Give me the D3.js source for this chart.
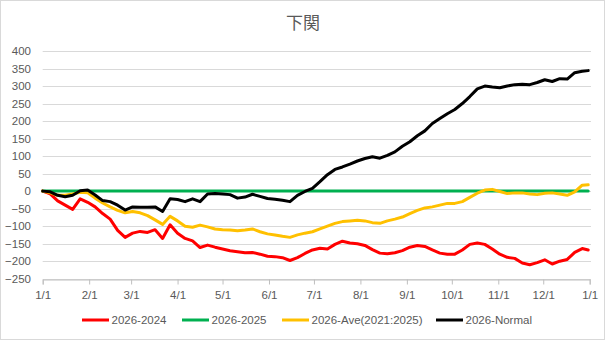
<!DOCTYPE html>
<html><head><meta charset="utf-8">
<script src="https://cdn.jsdelivr.net/npm/d3@7"></script>
<style>
html,body{margin:0;padding:0;background:#fff;}
svg{display:block;}
</style>
</head><body>
<svg id="c" width="606" height="341"></svg>
<script>
const title = "下関";
const days = [0,5,10,15,20,25,30,35,40,45,50,55,60,65,70,75,80,85,90,95,100,105,110,115,120,125,130,135,140,145,150,155,160,165,170,175,180,185,190,195,200,205,210,215,220,225,230,235,240,245,250,255,260,265,270,275,280,285,290,295,300,305,310,315,320,325,330,335,340,345,350,355,360,364];
const s2024 = [0,-8,-28,-40,-52,-22,-32,-45,-64,-80,-112,-132,-120,-115,-118,-110,-135,-96,-120,-135,-142,-161,-154,-160,-165,-170,-173,-176,-175,-180,-186,-187,-190,-198,-190,-178,-168,-163,-165,-152,-143,-148,-150,-155,-167,-177,-179,-176,-170,-160,-155,-158,-168,-177,-180,-180,-168,-152,-148,-152,-165,-180,-189,-192,-205,-210,-204,-196,-208,-200,-195,-175,-164,-168];
const s2025 = [0,0,0,0,0,0,0,0,0,0,0,0,0,0,0,0,0,0,0,0,0,0,0,0,0,0,0,0,0,0,0,0,0,0,0,0,0,0,0,0,0,0,0,0,0,0,0,0,0,0,0,0,0,0,0,0,0,0,0,0,0,0,0,0,0,0,0,0,0,0,0,0,0,0];
const sAve = [0,-5,-12,-12,-8,-3,-5,-20,-34,-45,-55,-62,-58,-62,-70,-82,-95,-72,-85,-100,-103,-97,-102,-108,-110,-111,-113,-111,-108,-116,-122,-125,-129,-132,-125,-120,-116,-108,-100,-92,-87,-85,-83,-85,-90,-92,-85,-80,-74,-64,-55,-48,-45,-40,-35,-35,-30,-18,-6,3,5,-1,-7,-5,-5,-8,-10,-6,-5,-8,-12,-2,17,18];
const sNormal = [0,-2,-12,-16,-12,1,3,-11,-27,-30,-40,-54,-45,-46,-46,-45,-58,-22,-24,-30,-22,-30,-8,-7,-8,-10,-20,-17,-9,-15,-21,-23,-26,-30,-12,-1,8,27,47,62,69,77,86,93,98,94,102,112,128,141,158,172,193,207,221,233,250,270,292,300,297,295,300,304,305,304,310,318,313,321,320,338,342,344];
const seriesNames = ["2026-2024","2026-2025","2026-Ave(2021:2025)","2026-Normal"];
const seriesColors = ["#FF0000","#00B050","#FFC000","#000000"];
const monthTickDays = [0,31,59,90,120,151,181,212,243,273,304,334,365];
const monthTickLabels = ["1/1","2/1","3/1","4/1","5/1","6/1","7/1","8/1","9/1","10/1","11/1","12/1","1/1"];
const yTicks = [-250,-200,-150,-100,-50,0,50,100,150,200,250,300,350,400];

const svg = d3.select("#c");
const font = "'Liberation Sans', Arial, sans-serif";
const txt = "#595959";

svg.append("rect").attr("x",0.5).attr("y",0.5).attr("width",604).attr("height",339)
  .attr("fill","#fff").attr("stroke","#D9D9D9");

const x = d3.scaleLinear().domain([0,365]).range([42.7,589.7]);
const y = d3.scaleLinear().domain([-250,400]).range([278.7,51]);

// gridlines
svg.append("g").selectAll("line").data(yTicks).join("line")
  .attr("x1",42.7).attr("x2",591).attr("y1",d=>Math.round(y(d))+0.5).attr("y2",d=>Math.round(y(d))+0.5)
  .attr("stroke","#D9D9D9").attr("stroke-width",1);

// y axis labels
const ya = svg.append("g").attr("transform","translate(31,0)")
  .call(d3.axisLeft(y).tickValues(yTicks).tickSize(0).tickPadding(0));
ya.select(".domain").remove();
ya.selectAll("text").attr("font-family",font).attr("font-size",11.5).attr("fill",txt);

// x axis
const xa = svg.append("g").attr("transform",`translate(0,${Math.round(y(-250))+0.5})`)
  .call(d3.axisBottom(x).tickValues(monthTickDays).tickFormat((d,i)=>monthTickLabels[i]).tickSize(5).tickPadding(6));
xa.select(".domain").attr("stroke","#BFBFBF");
xa.selectAll(".tick line").attr("stroke","#BFBFBF");
xa.selectAll("text").attr("font-family",font).attr("font-size",11.5).attr("fill",txt);

// lines
const allSeries = [s2024,s2025,sAve,sNormal];
const line = d3.line().x((d,i)=>x(days[i])).y(d=>y(d));
allSeries.forEach((s,k)=>{
  svg.append("path").datum(s).attr("d",line).attr("fill","none")
    .attr("stroke",seriesColors[k]).attr("stroke-width",3).attr("stroke-linejoin","round").attr("stroke-linecap","round");
});

// title
svg.append("text").attr("x",303).attr("y",29).attr("text-anchor","middle")
  .attr("font-family","'Noto Sans CJK JP', sans-serif").attr("font-size",17).attr("fill",txt).text(title);

// legend
const legX = [82,182,282,436];
const lg = svg.append("g");
seriesNames.forEach((n,k)=>{
  lg.append("line").attr("x1",legX[k]).attr("x2",legX[k]+27).attr("y1",320).attr("y2",320)
    .attr("stroke",seriesColors[k]).attr("stroke-width",3);
  lg.append("text").attr("x",legX[k]+29.5).attr("y",324).attr("font-family",font).attr("font-size",11.5)
    .attr("fill",txt).text(n);
});
</script>
</body></html>
